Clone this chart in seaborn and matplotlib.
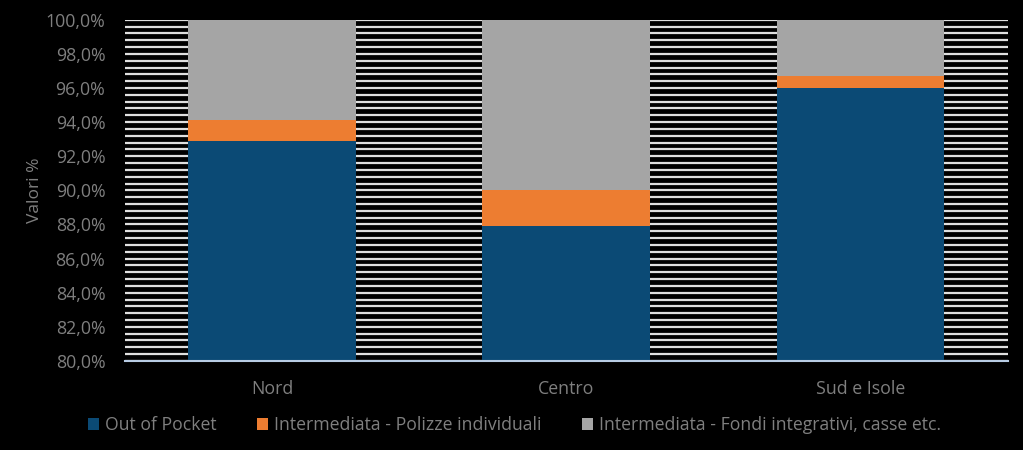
import matplotlib
matplotlib.use("Agg")
import matplotlib.pyplot as plt
import seaborn as sns
import numpy as np
import pandas as pd
from matplotlib.patches import Patch
from matplotlib.ticker import MultipleLocator, FuncFormatter

categories = ["Nord", "Centro", "Sud e Isole"]
out_of_pocket = [92.9, 87.9, 96.0]
polizze = [1.2, 2.1, 0.7]
fondi = [5.9, 10.0, 3.3]
series_names = ["Out of Pocket", "Intermediata - Polizze individuali",
                "Intermediata - Fondi integrativi, casse etc."]
colors = ["#0b4a75", "#ed7d31", "#a5a5a5"]

sns.set_theme(style="white")
plt.rcParams['font.family'] = ['Open Sans', 'DejaVu Sans']

fig = plt.figure(figsize=(10.23, 4.5), dpi=100, facecolor="black")
ax = fig.add_axes([0.122, 0.198, 0.863, 0.758])
ax.set_facecolor("black")

c1 = np.array(out_of_pocket)
c2 = c1 + np.array(polizze)
c3 = c2 + np.array(fondi)
layers = [(c3, colors[2]), (c2, colors[1]), (c1, colors[0])]
for vals, col in layers:
    df = pd.DataFrame({"cat": categories, "val": vals})
    sns.barplot(data=df, x="cat", y="val", color=col, width=0.57,
                saturation=1, ax=ax, zorder=3, linewidth=0)

ax.set_ylim(80, 100)
ax.set_xlim(-0.5, 2.5)
ax.yaxis.set_major_locator(MultipleLocator(2))
ax.yaxis.set_minor_locator(MultipleLocator(0.4))
ax.yaxis.set_major_formatter(FuncFormatter(lambda v, p: f"{v:.1f}%".replace(".", ",")))
ax.grid(which="both", axis="y", color="#e0e0e0", linewidth=1.6, zorder=0)
ax.grid(which="both", axis="x", visible=False)
ax.set_axisbelow(True)
for s in ["top", "right", "left"]:
    ax.spines[s].set_visible(False)
ax.spines["bottom"].set_color("#b8cce4")
ax.spines["bottom"].set_linewidth(1.5)
ax.spines["bottom"].set_zorder(4)

ax.tick_params(axis="both", which="both", length=0, colors="#7f7f7f", labelsize=12.8)
ax.tick_params(axis="y", pad=14)
ax.tick_params(axis="x", pad=14)
ax.set_xlabel("")
ax.set_ylabel("Valori %", color="#7f7f7f", fontsize=12.5, labelpad=2)

handles = [Patch(facecolor=c, edgecolor="none") for c in colors]
leg = fig.legend(handles, series_names, loc="center", bbox_to_anchor=(0.503, 0.055),
                 ncol=3, frameon=False, fontsize=12.7, labelcolor="#7f7f7f",
                 handlelength=0.6, handleheight=0.6, handletextpad=0.35,
                 columnspacing=2.3)

fig.savefig("out.png", dpi=100, facecolor="black")
